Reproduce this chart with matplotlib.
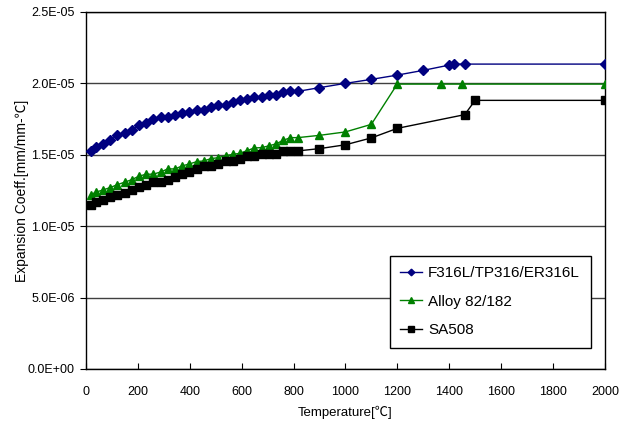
import matplotlib.pyplot as plt
from matplotlib.ticker import FuncFormatter, MultipleLocator

# Mean thermal expansion coefficients vs. temperature
temp_low = [20, 38, 66, 93, 121, 149, 177, 204, 232, 260, 288, 316, 343, 371, 399,
            427, 454, 482, 510, 538, 566, 593, 621, 649, 677, 704, 732, 760, 788, 816,
            900, 1000]

ss316_low = [1.527, 1.552, 1.578, 1.601, 1.636, 1.655, 1.671, 1.706, 1.723, 1.748,
             1.762, 1.762, 1.776, 1.795, 1.797, 1.816, 1.816, 1.834, 1.851, 1.851,
             1.869, 1.886, 1.888, 1.904, 1.907, 1.921, 1.921, 1.942, 1.944, 1.944,
             1.970, 2.000]
alloy82_low = [1.221, 1.238, 1.254, 1.270, 1.291, 1.308, 1.326, 1.350, 1.364, 1.364,
               1.380, 1.401, 1.401, 1.422, 1.436, 1.452, 1.457, 1.473, 1.480, 1.494,
               1.503, 1.510, 1.529, 1.548, 1.550, 1.562, 1.576, 1.601, 1.620, 1.620,
               1.636, 1.660]
sa508_low = [1.149, 1.168, 1.182, 1.203, 1.221, 1.235, 1.256, 1.275, 1.291, 1.308,
             1.308, 1.326, 1.347, 1.364, 1.382, 1.403, 1.420, 1.420, 1.436, 1.455,
             1.455, 1.473, 1.492, 1.492, 1.508, 1.508, 1.508, 1.527, 1.527, 1.527,
             1.543, 1.570]

# high temperature range, per material
ss316_t_high = [1100, 1200, 1300, 1400, 1420, 1460, 2000]
ss316_high = [2.028, 2.058, 2.091, 2.128, 2.135, 2.135, 2.135]
alloy82_t_high = [1100, 1200, 1370, 1450, 2000]
alloy82_high = [1.713, 1.995, 1.995, 1.995, 1.995]
sa508_t_high = [1100, 1200, 1460, 1500, 2000]
sa508_high = [1.618, 1.685, 1.781, 1.881, 1.881]

labels = ['F316L/TP316/ER316L', 'Alloy 82/182', 'SA508']

SCALE = 1e-5

plt.rcParams['font.family'] = ['Liberation Sans', 'Noto Sans CJK KR', 'DejaVu Sans']

fig = plt.figure(figsize=(6.32, 4.23), dpi=100)
ax = fig.add_axes([0.136, 0.1277, 0.821, 0.844])

series = [
    (temp_low + ss316_t_high, ss316_low + ss316_high, '#000080', 'D', 4.8),
    (temp_low + alloy82_t_high, alloy82_low + alloy82_high, '#008000', '^', 6),
    (temp_low + sa508_t_high, sa508_low + sa508_high, '#000000', 's', 5.5),
]
for (t, v, c, m, ms), lab in zip(series, labels):
    ax.plot(t, [x * SCALE for x in v], color=c, marker=m, markersize=ms,
            linewidth=1.0, label=lab, zorder=3)

ax.set_xlim(0, 2000)
ax.set_ylim(0, 2.5e-5)
ax.xaxis.set_major_locator(MultipleLocator(200))
ax.yaxis.set_major_locator(MultipleLocator(0.5e-5))
ax.yaxis.set_major_formatter(FuncFormatter(lambda y, p: f"{y:.1E}"))

ax.grid(axis='y', color='#404040', linewidth=1.0)
ax.set_axisbelow(True)
for s in ax.spines.values():
    s.set_color('black')
    s.set_linewidth(1.0)

ax.tick_params(axis='x', direction='in', length=4, labelsize=9, pad=12)
ax.tick_params(axis='y', direction='out', length=4, labelsize=9, pad=4)

ax.set_xlabel('Temperature[℃]', fontsize=9.5, labelpad=6)
ax.set_ylabel('Expansion Coeff.[mm/mm-℃]', fontsize=10, labelpad=-1)

leg = ax.legend(loc='lower right', bbox_to_anchor=(0.9725, 0.0588), borderaxespad=0,
                fontsize=11, handlelength=1.4, handletextpad=0.4, borderpad=0.7,
                labelspacing=0.95, fancybox=False, framealpha=1, markerscale=0.7)
leg.get_frame().set_edgecolor('black')
leg.get_frame().set_linewidth(1.0)

fig.savefig('out.png', dpi=100)
